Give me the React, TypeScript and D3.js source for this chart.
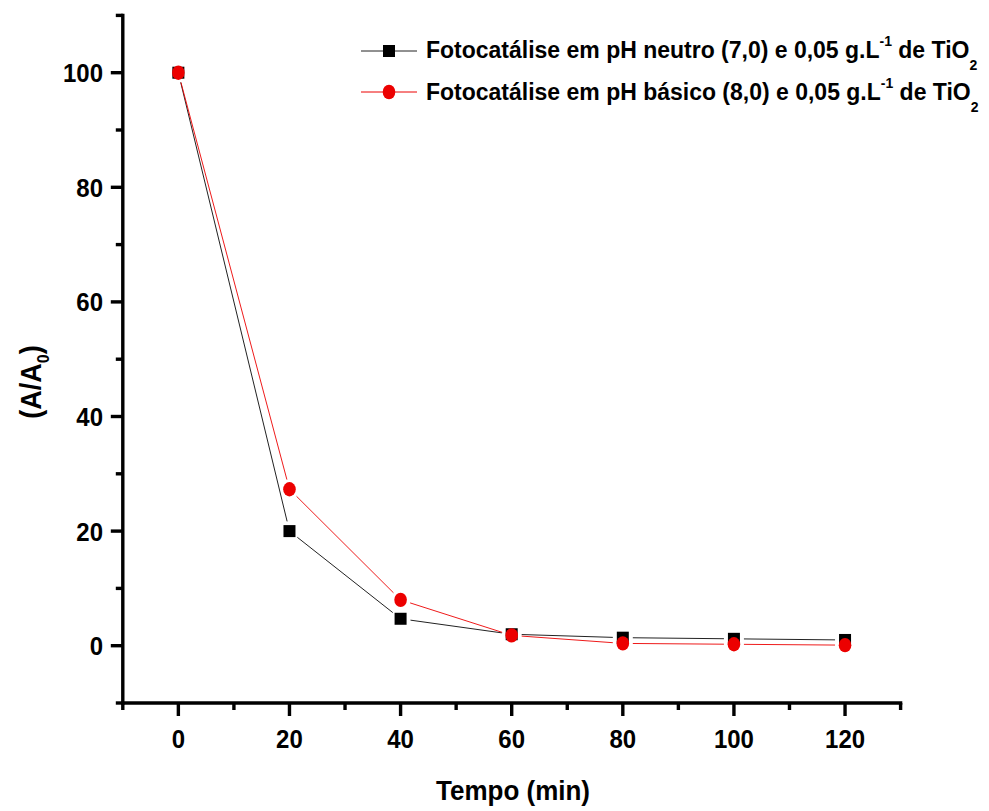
import React from "react";
import * as d3 from "d3";

const times = [0, 20, 40, 60, 80, 100, 120];
const neutro = [100, 20.0, 4.7, 2.0, 1.4, 1.2, 1.0];
const basico = [100, 27.3, 8.0, 1.8, 0.4, 0.25, 0.1];
const xMajor = [0, 20, 40, 60, 80, 100, 120];
const xMinor = [-10, 10, 30, 50, 70, 90, 110, 130];
const yMajor = [0, 20, 40, 60, 80, 100];
const yMinor = [-10, 10, 30, 50, 70, 90, 110];
const legendLabels = [
  "Fotocatálise em pH neutro (7,0) e 0,05 g.L",
  "Fotocatálise em pH básico (8,0) e 0,05 g.L",
];

const W = 989;
const H = 811;
const FONT = "'Liberation Sans', Arial, sans-serif";
const RED = "#ec0000";

export default function App() {
  const x = d3.scaleLinear().domain([-10, 130]).range([122.8, 900.6]);
  const y = d3.scaleLinear().domain([-10, 110]).range([703, 15.4]);

  const segs = (vals: number[], gap: number) => {
    const out: string[] = [];
    for (let i = 0; i < vals.length - 1; i++) {
      const x0 = x(times[i]), y0 = y(vals[i]);
      const x1 = x(times[i + 1]), y1 = y(vals[i + 1]);
      const dx = x1 - x0, dy = y1 - y0;
      const len = Math.hypot(dx, dy);
      if (len <= 2 * gap) continue;
      const ux = dx / len, uy = dy / len;
      out.push(
        `M${x0 + ux * gap},${y0 + uy * gap}L${x1 - ux * gap},${y1 - uy * gap}`
      );
    }
    return out.join("");
  };

  const yAxisX = x(-10);
  const xAxisY = y(-10);
  const SW = 3.4;

  return (
    <svg
      width={W}
      height={H}
      style={{ position: "absolute", left: 0, top: 0, background: "#fff" }}
      fontFamily={FONT}
    >
      <rect width={W} height={H} fill="#fff" />
      {/* series lines */}
      <path d={segs(neutro, 10)} stroke="#222" strokeWidth={1} fill="none" />
      <path d={segs(basico, 10)} stroke={RED} strokeWidth={0.9} fill="none" />
      {/* markers */}
      {times.map((t, i) => (
        <rect
          key={"s" + i}
          x={x(t) - 6}
          y={y(neutro[i]) - 6}
          width={12}
          height={12}
          fill="#000"
        />
      ))}
      {times.map((t, i) => (
        <ellipse
          key={"c" + i}
          cx={x(t)}
          cy={y(basico[i])}
          rx={6.3}
          ry={7.2}
          fill={RED}
        />
      ))}

      {/* axes */}
      <line x1={yAxisX} x2={yAxisX} y1={y(110) - 1.7} y2={xAxisY + 1.7} stroke="#000" strokeWidth={SW} />
      <line x1={yAxisX - 1.7} x2={x(130) + 1.7} y1={xAxisY} y2={xAxisY} stroke="#000" strokeWidth={SW} />
      {xMajor.map((v) => (
        <g key={"xm" + v}>
          <line x1={x(v)} x2={x(v)} y1={xAxisY} y2={xAxisY + 13} stroke="#000" strokeWidth={SW} />
          <text
            transform={`translate(${x(v)},748) scale(1,1.1)`}
            textAnchor="middle"
            fontSize={24}
            fontWeight="bold"
          >
            {v}
          </text>
        </g>
      ))}
      {xMinor.map((v) => (
        <line key={"xn" + v} x1={x(v)} x2={x(v)} y1={xAxisY} y2={xAxisY + 7} stroke="#000" strokeWidth={SW} />
      ))}
      {yMajor.map((v) => (
        <g key={"ym" + v}>
          <line x1={yAxisX - 12} x2={yAxisX} y1={y(v)} y2={y(v)} stroke="#000" strokeWidth={SW} />
          <text
            transform={`translate(103,${y(v) + 9.5}) scale(1,1.1)`}
            textAnchor="end"
            fontSize={24}
            fontWeight="bold"
          >
            {v}
          </text>
        </g>
      ))}
      {yMinor.map((v) => (
        <line key={"yn" + v} x1={yAxisX - 7} x2={yAxisX} y1={y(v)} y2={y(v)} stroke="#000" strokeWidth={SW} />
      ))}

      {/* axis titles */}
      <text
        transform="translate(513,800) scale(1,1.08)"
        textAnchor="middle"
        fontSize={26}
        fontWeight="bold"
      >
        Tempo (min)
      </text>
      <text
        transform="translate(41,382) rotate(-90) scale(1,1.08)"
        textAnchor="middle"
        fontSize={27}
        fontWeight="bold"
      >
        (A/A<tspan fontSize={16} dy={7}>0</tspan>
        <tspan dy={-7}>)</tspan>
      </text>

      {/* legend */}
      {legendLabels.map((lab, i) => {
        const cy = i === 0 ? 51 : 92;
        const base = i === 0 ? 58 : 100;
        const col = i === 0 ? "#000" : RED;
        return (
          <g key={"lg" + i}>
            <line x1={361} x2={417} y1={cy} y2={cy} stroke={i === 0 ? "#222" : RED} strokeWidth={1} />
            {i === 0 ? (
              <rect x={383} y={cy - 6} width={12} height={12} fill={col} />
            ) : (
              <ellipse cx={389} cy={cy} rx={6.3} ry={7.3} fill={col} />
            )}
            <text
              transform={`translate(426,${base}) scale(1,1.06)`}
              fontSize={23}
              fontWeight="bold"
            >
              {lab}
              <tspan fontSize={14} dy={-11}>-1</tspan>
              <tspan dy={11}> de TiO</tspan>
              <tspan fontSize={14} dy={11}>2</tspan>
            </text>
          </g>
        );
      })}
    </svg>
  );
}
